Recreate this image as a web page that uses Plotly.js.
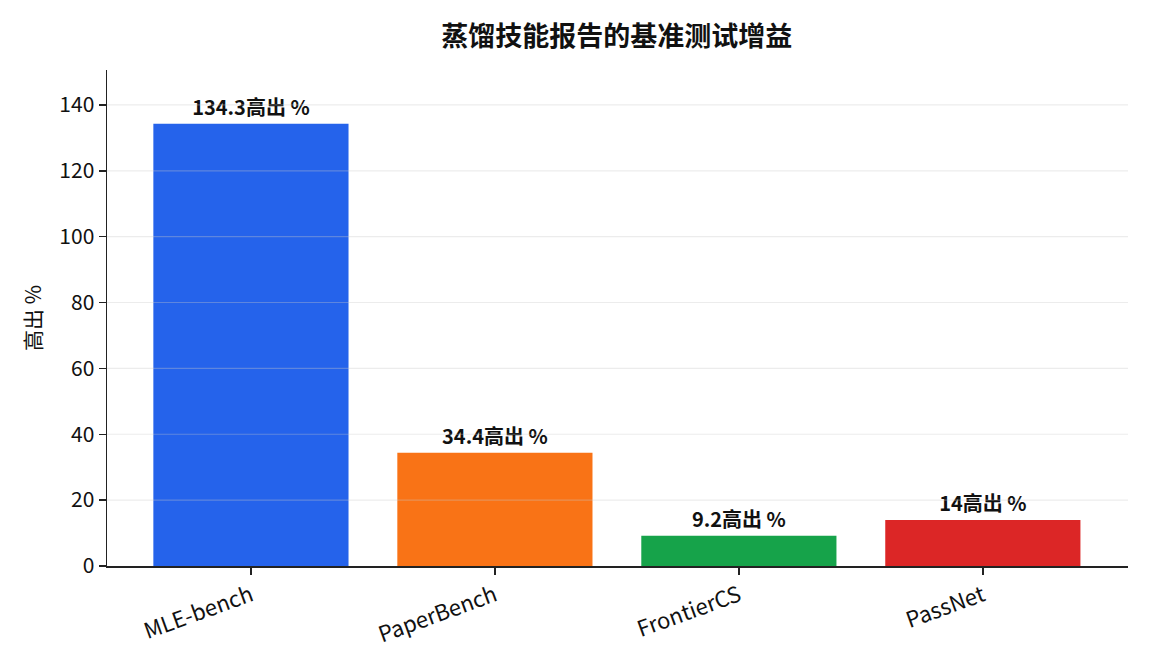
<!DOCTYPE html>
<html>
<head>
<meta charset="utf-8">
<script src="https://cdn.plot.ly/plotly-3.0.1.min.js"></script>
<style>html,body{margin:0;padding:0;background:#fff;}#chart{width:1152px;height:672px;}</style>
</head>
<body>
<div id="chart"></div>
<script>
const categories = ["MLE-bench", "PaperBench", "FrontierCS", "PassNet"];
const values = [134.3, 34.4, 9.2, 14];
const colors = ["#2563eb", "#f97316", "#16a34a", "#dc2626"];
const yTicks = [0, 20, 40, 60, 80, 100, 120, 140];
const labelSuffix = "高出 %";
const titleText = "蒸馏技能报告的基准测试增益";
const yTitle = "高出 %";

const FONT = "'Noto Sans CJK SC', 'Noto Sans', sans-serif";

const trace = {
  type: "bar",
  x: categories,
  y: values,
  marker: {color: colors},
  width: 0.8,
  text: values.map(v => v + labelSuffix),
  textposition: "outside",
  cliponaxis: false,
  textfont: {family: FONT, size: 20, color: "#111", weight: "bold"},
  hoverinfo: "skip"
};

const gridShapes = yTicks.filter(t => t > 0).map(t => ({
  type: "line", xref: "paper", yref: "y", x0: 0, x1: 1, y0: t, y1: t,
  layer: "above", line: {color: "rgba(200,200,200,0.35)", width: 1.2}
}));

const layout = {
  width: 1152, height: 672,
  margin: {l: 107, r: 24, t: 70, b: 106},
  paper_bgcolor: "#fff", plot_bgcolor: "#fff",
  font: {family: FONT, color: "#111"},
  title: {text: "<b>" + titleText + "</b>", x: 0.5353, xanchor: "center", y: 0.945, yanchor: "middle",
          font: {family: FONT, size: 27, color: "#111"}},
  xaxis: {
    range: [-0.59, 3.595], showgrid: false, showline: true, linecolor: "#222", linewidth: 1.5,
    ticks: "outside", ticklen: 7, tickwidth: 1.5, tickcolor: "#222",
    tickangle: -20, tickfont: {family: FONT, size: 22, color: "#111"}, zeroline: false
  },
  yaxis: {
    range: [0, 150.6], tickvals: yTicks, showgrid: false, showline: true, linecolor: "#222", linewidth: 1.5,
    ticks: "outside", ticklen: 7, tickwidth: 1.5, tickcolor: "#222", zeroline: false,
    tickfont: {family: FONT, size: 21, color: "#111"},
    title: {text: yTitle, font: {family: FONT, size: 21, color: "#111"}, standoff: 12}
  },
  shapes: gridShapes,
  showlegend: false
};

Plotly.newPlot("chart", [trace], layout, {displayModeBar: false, staticPlot: true});
</script>
</body>
</html>
